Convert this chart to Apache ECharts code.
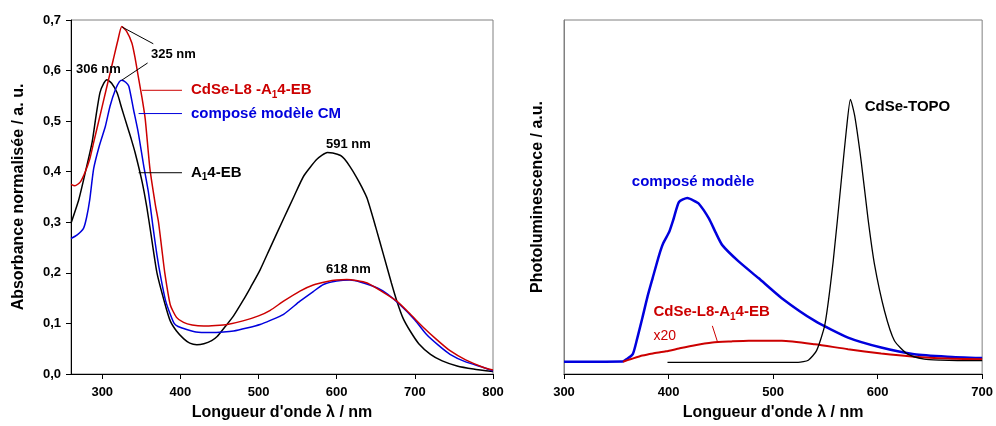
<!DOCTYPE html>
<html><head><meta charset="utf-8">
<script src="https://cdn.jsdelivr.net/npm/echarts@6/dist/echarts.min.js"></script>
<style>html,body{margin:0;padding:0;background:#fff}#c{width:996px;height:426px}</style>
</head><body><div id="c"></div>
<script>
// ---- Left chart: absorbance ----
const blackAbsX = [260,270,280,287,292,297,302,306,312,319,325,332,337,342,351,357,362,370,380,387,395,404,412,421,430,440,447,458,468,480,490,502,515,532,545,558,575,588,595,605,610,617,625,632,639,650,660,670,677,685,694,705,720,735,754,775,800];
const blackAbsY = [0.298,0.345,0.41,0.458,0.51,0.556,0.575,0.582,0.575,0.556,0.525,0.49,0.465,0.438,0.38,0.33,0.28,0.2,0.14,0.105,0.085,0.07,0.061,0.058,0.06,0.066,0.074,0.095,0.115,0.145,0.172,0.206,0.25,0.307,0.35,0.392,0.425,0.438,0.437,0.432,0.425,0.41,0.39,0.37,0.347,0.29,0.235,0.18,0.144,0.11,0.085,0.06,0.039,0.026,0.016,0.01,0.005];
const redAbsX = [260,265,272,278,284,289,297,306,314,320,325,331,338,342,346,351,355,361,368,372,376,380,387,395,404,415,430,445,460,480,500,515,532,553,570,588,600,613,625,639,655,677,695,711,728,745,765,788,800];
const redAbsY = [0.375,0.372,0.38,0.399,0.425,0.458,0.51,0.569,0.621,0.66,0.687,0.678,0.654,0.625,0.589,0.545,0.504,0.406,0.334,0.3,0.25,0.2,0.137,0.112,0.102,0.097,0.095,0.096,0.098,0.105,0.115,0.126,0.144,0.164,0.176,0.183,0.186,0.187,0.185,0.18,0.166,0.144,0.117,0.092,0.068,0.046,0.028,0.013,0.008];
const blueAbsX = [260,268,276,280,284,289,296,304,310,317,322,325,330,334,340,346,353,359,365,370,375,381,387,392,397,408,420,438,455,468,485,502,515,532,553,570,583,600,617,630,652,665,681,700,715,730,745,765,788,800];
const blueAbsY = [0.268,0.275,0.288,0.31,0.345,0.406,0.45,0.49,0.53,0.563,0.578,0.581,0.577,0.569,0.523,0.478,0.412,0.36,0.29,0.235,0.19,0.145,0.118,0.1,0.094,0.088,0.083,0.082,0.083,0.085,0.091,0.098,0.106,0.118,0.144,0.163,0.177,0.184,0.186,0.182,0.17,0.158,0.137,0.107,0.078,0.057,0.039,0.024,0.013,0.006];
const absXTicks = [300,400,500,600,700,800];
const absYTicks = [0,0.1,0.2,0.3,0.4,0.5,0.6,0.7];

// ---- Right chart: photoluminescence ----
const bluePLX = [300,340,356,360,365.8,370,375,380,384.8,391,395,400.7,405,410,418,424,429,438.7,445,451.4,467,486,508,540,571.7,603.4,635,666.7,700];
const bluePLY = [3.48,3.48,3.5,4.2,5.6,10,15.9,22,27.1,33.6,37,40.2,44,48.6,49.7,49,48.1,43.9,40,36.4,31.8,27.1,21.5,15.0,10.3,7.5,5.6,4.9,4.5];
const redPLX = [356.4,365,375,385,397.6,410,422.9,441.9,460,476.7,508.4,540,571.7,603.4,635,666.7,700];
const redPLY = [3.48,4.3,5.2,5.8,6.4,7.2,8.0,8.9,9.2,9.4,9.4,8.4,7.0,5.8,4.9,4.4,4.2];
const topoPLX = [399,450,500,524,533.7,541.6,549.6,557.5,565.4,570.2,574,578.1,584.4,590.8,597.1,606.6,616.1,628.8,644.6,660,676.3,700];
const topoPLY = [3.3,3.3,3.3,3.3,3.9,6.6,14.0,31.8,55.1,69.2,77.6,72.9,59.8,43.9,30.8,17.8,9.4,5.6,4.2,3.9,3.8,3.8];
const plXTicks = [300,400,500,600,700];

const RED = '#cc0000', BLUE = '#0000dd', BLACK = '#000000';
const FONT = 'Liberation Sans, Arial, sans-serif';
const zip = (xs, ys) => xs.map((x, i) => [x, ys[i]]);

const chart = echarts.init(document.getElementById('c'));
const axisLbl = {fontFamily: FONT, fontWeight: 'bold', fontSize: 13, color: '#000'};
const nameStyle = {fontFamily: FONT, fontWeight: 'bold', fontSize: 16, color: '#000'};

function line(name, data, color, xi, w) {
  return {name, type: 'line', xAxisIndex: xi, yAxisIndex: xi, data, showSymbol: false,
    smooth: 0.2, lineStyle: {color, width: w || 1.5}, itemStyle: {color}, animation: false, z: 3};
}

chart.setOption({
  animation: false,
  grid: [
    {left: 71, top: 20, width: 422, height: 357, show: true, borderColor: '#808080', borderWidth: 1},
    {left: 564, top: 20, width: 421, height: 357, show: true, borderColor: '#808080', borderWidth: 1}
  ],
  xAxis: [
    {type: 'value', gridIndex: 0, min: 260, max: 800,
     axisLine: {lineStyle: {color: '#000'}},
     axisTick: {show: true, customValues: absXTicks, length: 5, lineStyle: {color: '#000'}},
     splitLine: {show: false},
     axisLabel: Object.assign({margin: 12, customValues: absXTicks}, axisLbl),
     name: "Longueur d'onde λ / nm", nameLocation: 'middle', nameGap: 31, nameTextStyle: nameStyle},
    {type: 'value', gridIndex: 1, min: 300, max: 700,
     axisLine: {lineStyle: {color: '#000'}},
     axisTick: {show: true, customValues: plXTicks, length: 5, lineStyle: {color: '#000'}},
     splitLine: {show: false},
     axisLabel: Object.assign({margin: 12, customValues: plXTicks}, axisLbl),
     name: "Longueur d'onde λ / nm", nameLocation: 'middle', nameGap: 31, nameTextStyle: nameStyle}
  ],
  yAxis: [
    {type: 'value', gridIndex: 0, min: 0, max: 0.7,
     axisLine: {show: true, lineStyle: {color: '#000'}},
     axisTick: {show: true, customValues: absYTicks, length: 5, lineStyle: {color: '#000'}},
     splitLine: {show: false},
     axisLabel: Object.assign({margin: 10, customValues: absYTicks, formatter: v => v.toFixed(1).replace('.', ',')}, axisLbl),
     name: 'Absorbance normalisée / a. u.', nameLocation: 'middle', nameGap: 44, nameTextStyle: nameStyle},
    {type: 'value', gridIndex: 1, min: 0, max: 100,
     axisLine: {show: true, lineStyle: {color: '#808080'}}, axisTick: {show: false},
     splitLine: {show: false}, axisLabel: {show: false},
     name: 'Photoluminescence / a.u.', nameLocation: 'middle', nameGap: 18, nameTextStyle: nameStyle}
  ],
  series: [
    line('A14-EB', zip(blackAbsX, blackAbsY), BLACK, 0),
    line('CM', zip(blueAbsX, blueAbsY), BLUE, 0),
    line('CdSe-L8-A14-EB', zip(redAbsX, redAbsY), RED, 0),
    line('composé modèle', zip(bluePLX, bluePLY), BLUE, 1, 2.5),
    line('CdSe-L8-A14-EB x20', zip(redPLX, redPLY), RED, 1, 2),
    line('CdSe-TOPO', zip(topoPLX, topoPLY), BLACK, 1, 1.3)
  ]
});

// annotations (data coords)
const P = (gi, x, y) => chart.convertToPixel({gridIndex: gi}, [x, y]);
const g = [];
function txt(gi, x, y, rich, text, align, color, size, weight) {
  const p = P(gi, x, y);
  g.push({type: 'text', x: p[0], y: p[1], z: 10,
    style: {text, rich, fill: color, font: (weight || 'bold') + ' ' + size + 'px ' + FONT,
      textAlign: align, textVerticalAlign: 'middle'}});
}
function seg(gi, x1, y1, x2, y2, color) {
  const a = P(gi, x1, y1), b = P(gi, x2, y2);
  g.push({type: 'line', z: 10, shape: {x1: a[0], y1: a[1], x2: b[0], y2: b[1]}, style: {stroke: color, lineWidth: 1}});
}
function sub(color, size) {
  return {a: {fill: color, font: 'bold ' + size + 'px ' + FONT}, s: {fill: color, font: 'bold 10px ' + FONT, padding: [10, 0, 0, 0]}};
}
// left
txt(0, 391, 0.631, null, '325 nm', 'center', '#000', 13);
seg(0, 325.6, 0.686, 365.3, 0.653, '#000');
seg(0, 325, 0.581, 358, 0.615, '#000');
txt(0, 295, 0.602, null, '306 nm', 'center', '#000', 13);
txt(0, 615, 0.453, null, '591 nm', 'center', '#000', 13);
txt(0, 615, 0.206, null, '618 nm', 'center', '#000', 13);
seg(0, 350.8, 0.561, 402, 0.561, RED);
seg(0, 346.5, 0.515, 402, 0.515, BLUE);
seg(0, 346.5, 0.398, 402, 0.398, '#000');
txt(0, 413.5, 0.561, sub(RED, 15), '{a|CdSe-L8 -A}{s|1}{a|4-EB}', 'left', RED, 15);
txt(0, 413.5, 0.515, null, 'composé modèle CM', 'left', BLUE, 15);
txt(0, 413.5, 0.398, sub('#000', 15), '{a|A}{s|1}{a|4-EB}', 'left', '#000', 15);
// right
txt(1, 587.6, 75.5, null, 'CdSe-TOPO', 'left', '#000', 15);
txt(1, 364.9, 54.2, null, 'composé modèle', 'left', BLUE, 15);
txt(1, 385.5, 17.5, sub(RED, 15), '{a|CdSe-L8-A}{s|1}{a|4-EB}', 'left', RED, 15);
txt(1, 385.5, 10.8, null, 'x20', 'left', RED, 14, 'normal');
seg(1, 441.9, 13.6, 446.7, 9.2, RED);
chart.setOption({graphic: g});
</script></body></html>
